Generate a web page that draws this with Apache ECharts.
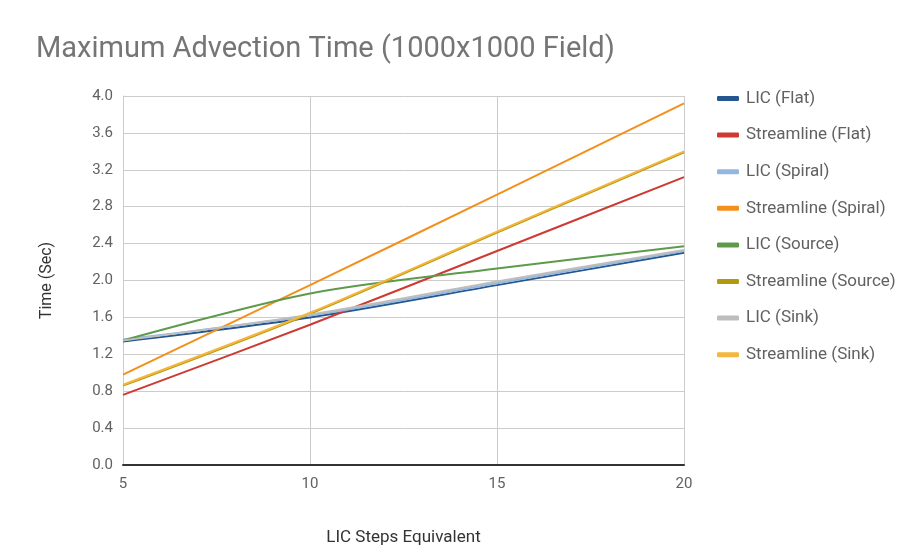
<!DOCTYPE html>
<html>
<head>
<meta charset="utf-8">
<script src="https://cdn.jsdelivr.net/npm/echarts@6/dist/echarts.min.js"></script>
<style>
  html, body { margin: 0; padding: 0; background: #ffffff; }
  #chart { width: 917px; height: 548px; }
</style>
</head>
<body>
<div id="chart"></div>
<script>
// LIC step counts on the x axis
const steps = [5, 10, 15, 20];

// Maximum advection time (seconds) per field type
const licFlat = [1.34, 1.60, 1.95, 2.30];
const streamFlat = [0.76, 1.52, 2.32, 3.12];
const licSpiral = [1.36, 1.62, 1.97, 2.32];
const streamSpiral = [0.98, 1.95, 2.93, 3.92];
const licSource = [1.35, 1.86, 2.13, 2.37];
const streamSource = [0.86, 1.64, 2.52, 3.39];
const licSink = [1.35, 1.63, 1.99, 2.33];
const streamSink = [0.87, 1.65, 2.53, 3.40];

const seriesNames = [
  'LIC (Flat)', 'Streamline (Flat)', 'LIC (Spiral)', 'Streamline (Spiral)',
  'LIC (Source)', 'Streamline (Source)', 'LIC (Sink)', 'Streamline (Sink)'
];
const seriesValues = [
  licFlat, streamFlat, licSpiral, streamSpiral,
  licSource, streamSource, licSink, streamSink
];
const seriesColors = [
  '#24568f', '#cc3a33', '#92b7e0', '#f3901c',
  '#5e9a4c', '#b39a0c', '#bdbdbd', '#f4b63f'
];

const chart = echarts.init(document.getElementById('chart'), null, { renderer: 'canvas' });

const series = seriesNames.map((name, i) => ({
  name: name,
  type: 'line',
  smooth: 0.3,
  showSymbol: false,
  symbol: 'none',
  lineStyle: { width: 2, color: seriesColors[i] },
  itemStyle: { color: seriesColors[i] },
  data: steps.map((s, j) => [s, seriesValues[i][j]])
}));

chart.setOption({
  animation: false,
  backgroundColor: '#ffffff',
  textStyle: { fontFamily: 'Roboto, sans-serif' },
  title: {
    text: 'Maximum Advection Time (1000x1000 Field)',
    left: 31,
    top: 30,
    textStyle: { fontFamily: 'Roboto', fontSize: 29, fontWeight: 'normal', color: '#757575' }
  },
  grid: { left: 123, right: 233, top: 96, bottom: 83, outerBoundsMode: 'none', containLabel: false },
  legend: {
    orient: 'vertical',
    left: 712,
    top: 85,
    itemWidth: 22,
    itemHeight: 5,
    itemGap: 19.6,
    icon: 'roundRect',
    textStyle: { fontFamily: 'Roboto', fontSize: 17, color: '#616161', padding: [0, 0, 0, 2] },
    data: seriesNames
  },
  xAxis: {
    type: 'value',
    min: 5,
    max: 20,
    interval: 5,
    name: 'LIC Steps Equivalent',
    nameLocation: 'middle',
    nameGap: 64,
    nameTextStyle: { fontFamily: 'Roboto', fontSize: 17, color: '#333333' },
    axisLine: { show: true, onZero: false, lineStyle: { color: '#333333', width: 2 } },
    axisTick: { show: false },
    axisLabel: { fontFamily: 'Roboto', fontSize: 15, color: '#616161', margin: 12 },
    splitLine: { show: true, lineStyle: { color: '#cccccc', width: 1 } }
  },
  yAxis: {
    type: 'value',
    min: 0,
    max: 4,
    interval: 0.4,
    name: 'Time (Sec)',
    nameLocation: 'middle',
    nameRotate: 90,
    nameGap: 68,
    nameTextStyle: { fontFamily: 'Roboto', fontSize: 16, color: '#333333' },
    axisLine: { show: true, lineStyle: { color: '#cccccc', width: 1 } },
    axisTick: { show: false },
    axisLabel: {
      fontFamily: 'Roboto', fontSize: 15, color: '#616161', margin: 10,
      formatter: v => v.toFixed(1)
    },
    splitLine: { show: true, lineStyle: { color: '#cccccc', width: 1 } }
  },
  series: series
});
</script>
</body>
</html>
